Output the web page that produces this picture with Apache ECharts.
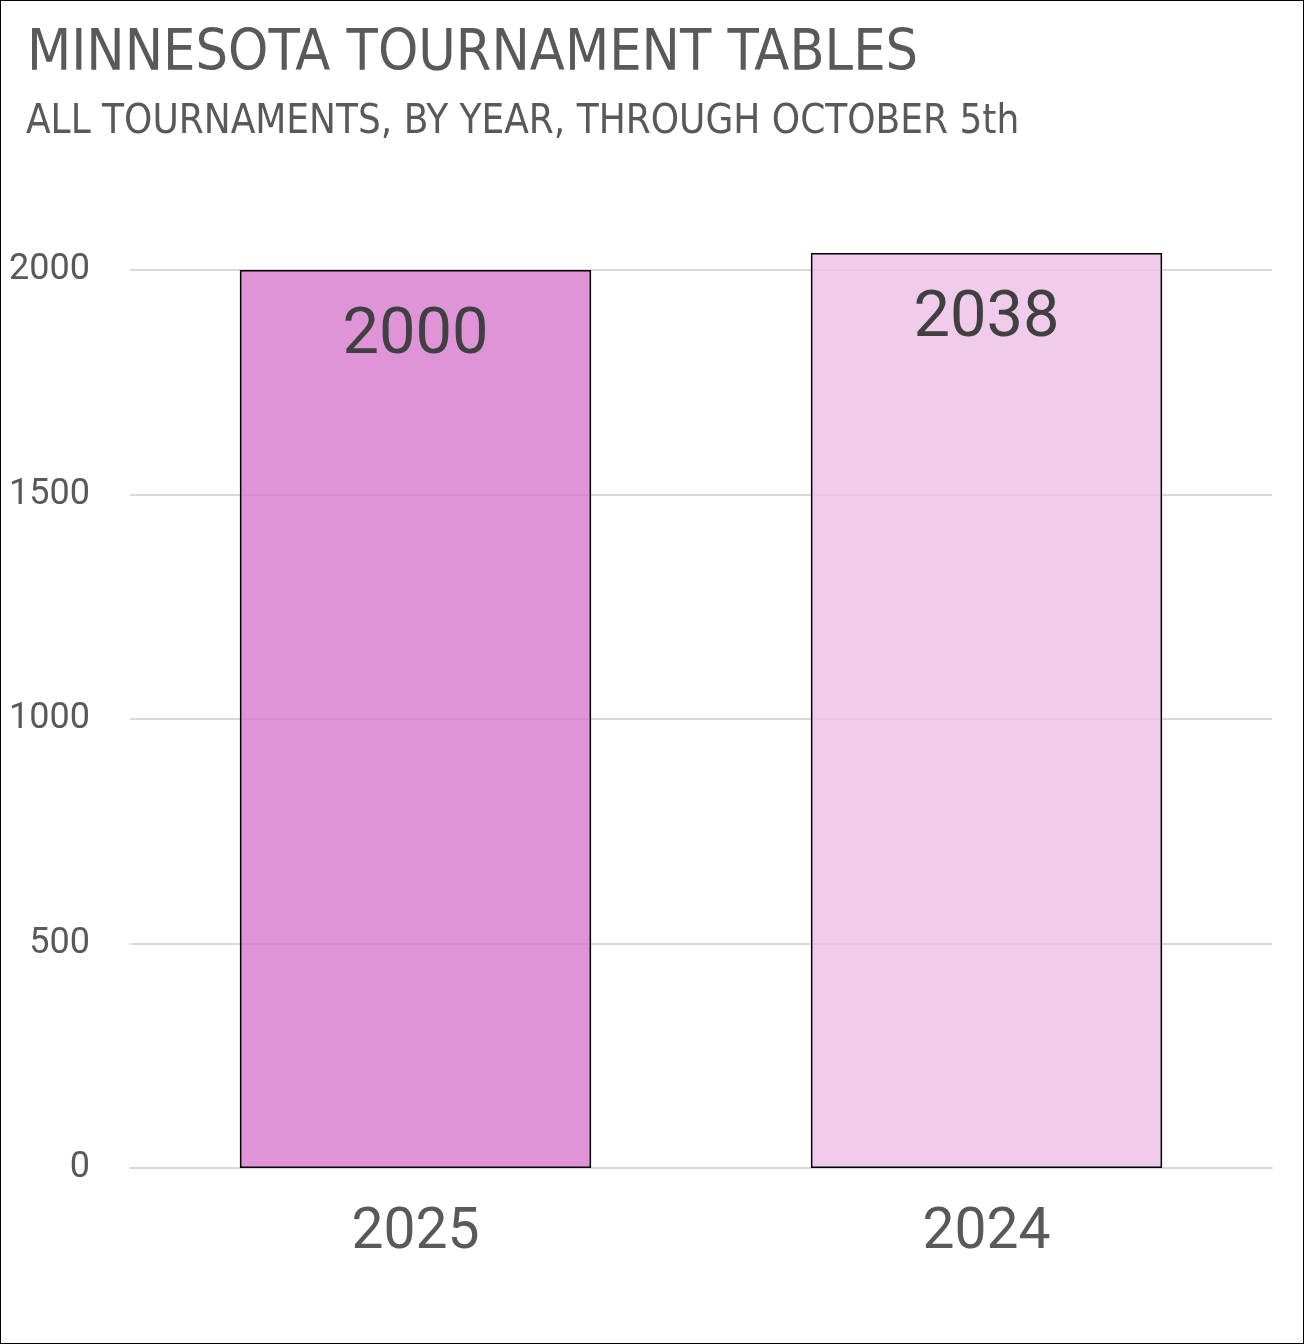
<!DOCTYPE html>
<html>
<head>
<meta charset="utf-8">
<script src="https://cdn.jsdelivr.net/npm/echarts@6/dist/echarts.min.js"></script>
<style>
  html, body { margin: 0; padding: 0; background: #fff; }
  #main { width: 1304px; height: 1344px; box-sizing: border-box; border: 1px solid #000; }
</style>
</head>
<body>
<div id="main"></div>
<script>
const years = ['2025', '2024']
const tables = [2000, 2038]
const yTicks = [0, 500, 1000, 1500, 2000]
const barColors = ['rgba(216,121,206,0.8)', 'rgba(236,190,231,0.8)']

const chart = echarts.init(document.getElementById('main'))
chart.setOption({
    animation: false,
    title: [
        {
            text: 'MINNESOTA TOURNAMENT TABLES',
            left: 21, top: 21,
            textStyle: { fontFamily: '"DejaVu Sans Condensed", Roboto', fontWeight: 'normal', fontSize: 57, color: '#595959' }
        },
        {
            text: 'ALL TOURNAMENTS, BY YEAR, THROUGH OCTOBER 5th',
            left: 20, top: 97,
            textStyle: { fontFamily: '"DejaVu Sans Condensed", Roboto', fontWeight: 'normal', fontSize: 40, color: '#595959' }
        }
    ],
    grid: { left: 129, right: 31, top: 269, bottom: 175, containLabel: false },
    xAxis: {
        type: 'category',
        data: years,
        axisLine: { show: true, lineStyle: { color: '#D9D9D9', width: 2 } },
        axisTick: { show: false },
        axisLabel: { color: '#595959', fontSize: 57, fontFamily: 'Roboto', margin: 37 }
    },
    yAxis: {
        type: 'value',
        min: yTicks[0],
        max: yTicks[yTicks.length - 1],
        interval: 500,
        axisLine: { show: false },
        axisTick: { show: false },
        axisLabel: { color: '#595959', fontSize: 36, fontFamily: 'Roboto', margin: 40, formatter: v => String(v) },
        splitLine: { lineStyle: { color: '#D9D9D9', width: 2 } }
    },
    series: [{
        type: 'bar',
        clip: false,
        barWidth: '61.5%',
        data: tables.map((v, i) => ({
            value: v,
            itemStyle: { color: barColors[i] }
        })),
        itemStyle: { borderColor: '#000', borderWidth: 1.5 },
        label: {
            show: true,
            position: 'insideTop',
            distance: 34,
            color: '#404040',
            fontSize: 65,
            fontFamily: 'Roboto'
        }
    }]
})
</script>
</body>
</html>
